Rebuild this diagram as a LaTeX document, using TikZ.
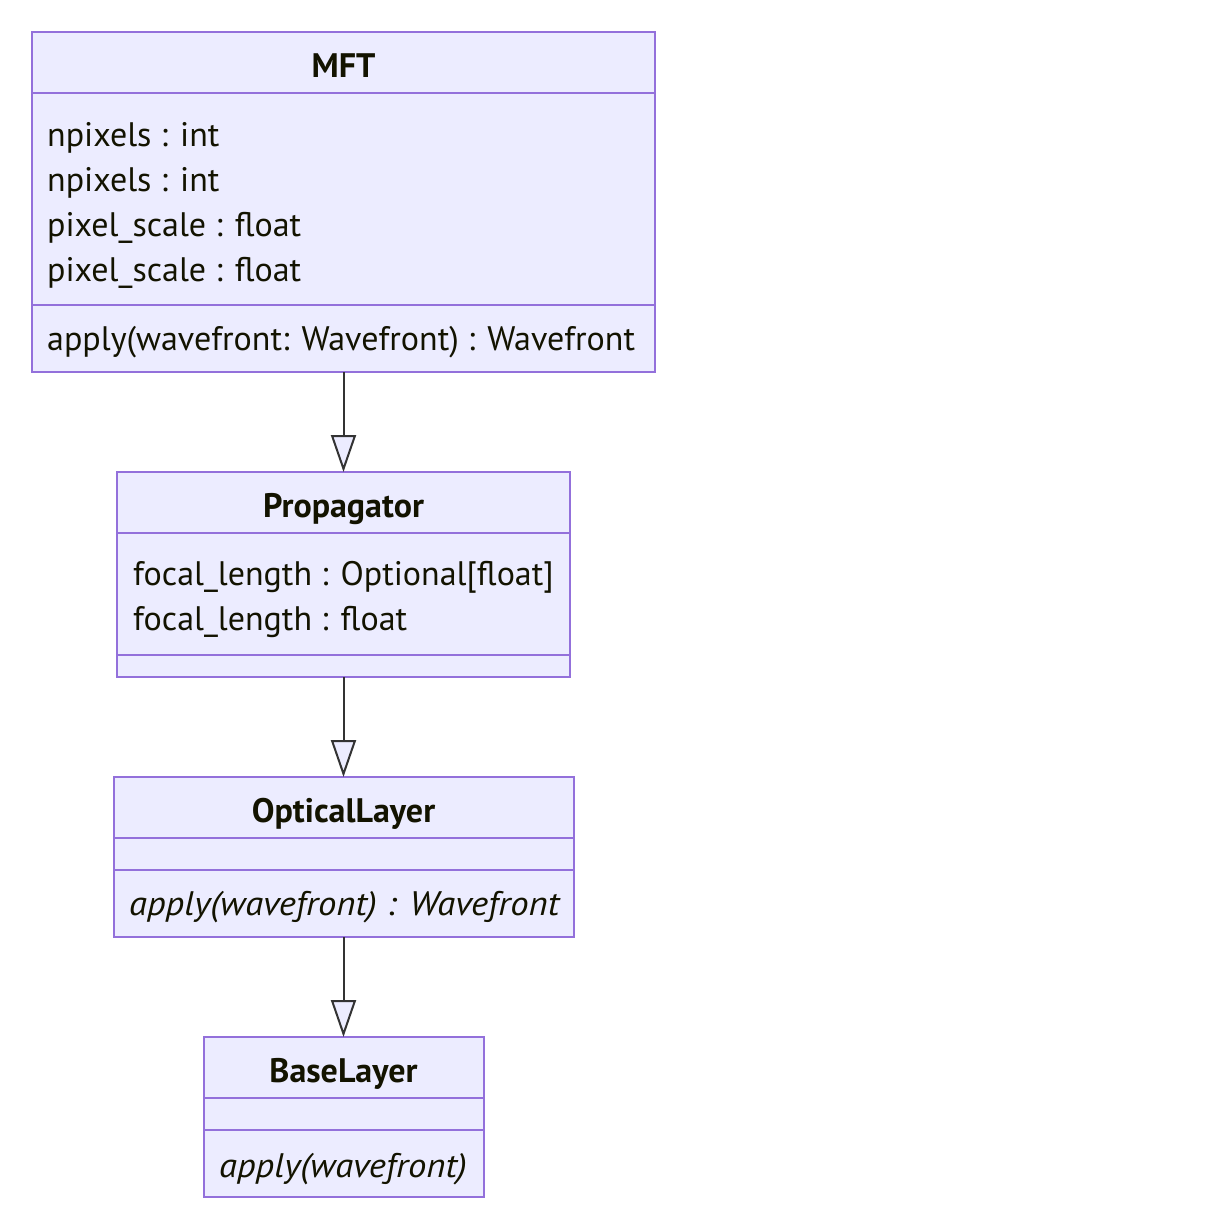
\documentclass[tikz,border=0pt]{standalone}
\usepackage{fontspec}
\setmainfont{PT Sans}[ItalicFeatures={FakeStretch=1.08}]
\usetikzlibrary{arrows.meta}
\definecolor{boxfill}{HTML}{ECECFF}
\definecolor{boxline}{HTML}{9370DB}
\definecolor{txt}{HTML}{131300}
\definecolor{edge}{HTML}{333333}
\tikzset{
  classbox/.style={draw=boxline, fill=boxfill, line width=2pt, rectangle, inner sep=0pt, outer sep=0pt},
  divider/.style={draw=boxline, line width=2pt},
  title/.style={anchor=base, inner sep=0pt, text=txt, font=\fontsize{34}{34}\selectfont\bfseries},
  member/.style={anchor=base west, inner sep=0pt, text=txt, font=\fontsize{34}{34}\selectfont},
  abstract/.style={member, font=\fontsize{34}{34}\selectfont\itshape},
  inherit/.style={draw=edge, line width=2pt, -{Triangle[length=37pt, width=25pt, fill=boxfill, line join=miter]}},
}
\begin{document}
\begin{tikzpicture}[x=1pt, y=-1pt]
\useasboundingbox (0,0) rectangle (1230,1230);
% MFT
\node[classbox, minimum width=623, minimum height=340] (mft) at (343.5,202) {};
\draw[divider] (mft.west |- 0,93) -- (mft.east |- 0,93);
\draw[divider] (mft.west |- 0,305) -- (mft.east |- 0,305);
\node[title] (mftt) at (343.5,77.5) {MFT};
\node[member] (mfta) at (47,146.5) {npixels : int};
\node[member] (mftb) at (47,191.5) {npixels : int};
\node[member] (mftc) at (47,236.5) {pixel\_scale : float};
\node[member] (mftd) at (47,281.5) {pixel\_scale : float};
\node[member] (mftm) at (47,350.5) {apply(wavefront: Wavefront) : Wavefront};
% Propagator
\node[classbox, minimum width=453, minimum height=205] (prop) at (343.5,574.5) {};
\draw[divider] (prop.west |- 0,533) -- (prop.east |- 0,533);
\draw[divider] (prop.west |- 0,655) -- (prop.east |- 0,655);
\node[title] (propt) at (343.5,517.5) {Propagator};
\node[member] (propa) at (133,585.5) {focal\_length : Optional[float]};
\node[member] (propb) at (133,630.5) {focal\_length : float};
% OpticalLayer
\node[classbox, minimum width=460, minimum height=160] (opt) at (343.5,857) {};
\draw[divider] (opt.west |- 0,838) -- (opt.east |- 0,838);
\draw[divider] (opt.west |- 0,870) -- (opt.east |- 0,870);
\node[title] (optt) at (343.5,822.5) {OpticalLayer};
\node[abstract] (optm) at (129,915.5) {apply(wavefront) : Wavefront};
% BaseLayer
\node[classbox, minimum width=280, minimum height=160] (base) at (343.5,1117) {};
\draw[divider] (base.west |- 0,1098) -- (base.east |- 0,1098);
\draw[divider] (base.west |- 0,1130) -- (base.east |- 0,1130);
\node[title] (baset) at (343.5,1082.5) {BaseLayer};
\node[abstract] (basem) at (219,1177.5) {apply(wavefront)};
% inheritance
\draw[inherit] (mft.south) -- (prop.north);
\draw[inherit] (prop.south) -- (opt.north);
\draw[inherit] (opt.south) -- (base.north);
\end{tikzpicture}
\end{document}
